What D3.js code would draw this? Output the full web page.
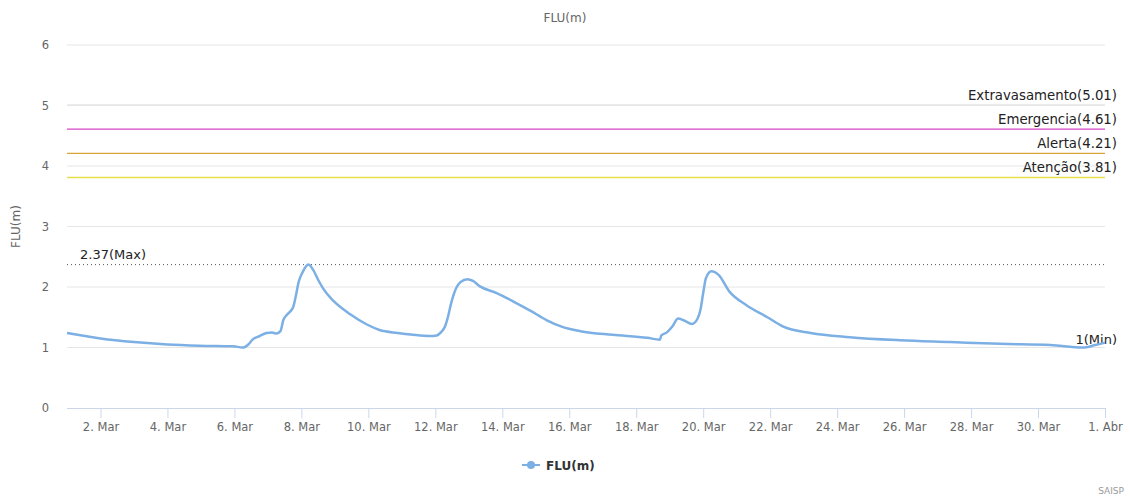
<!DOCTYPE html>
<html>
<head>
<meta charset="utf-8">
<script src="https://cdn.jsdelivr.net/npm/d3@7"></script>
<style>
  body { margin: 0; background: #fff; }
  svg { font-family: "DejaVu Sans", Verdana, sans-serif; }
</style>
</head>
<body>
<div id="chart"></div>
<script>
// days since 1 Mar 00:00 and the river level read at that time
const dayOffsets = [0, 0.99, 2.0, 2.99, 3.97, 4.96, 5.23, 5.41, 5.56, 5.76, 5.97, 6.12, 6.27, 6.36, 6.45,
  6.57, 6.75, 6.84, 6.93, 7.05, 7.2, 7.35, 7.5, 7.65, 7.95, 8.45, 8.96, 9.35, 9.86, 10.33, 10.84,
  11.05, 11.17, 11.29, 11.38, 11.47, 11.59, 11.74, 11.95, 12.13, 12.34, 12.84, 13.32, 13.83, 14.34,
  14.81, 15.32, 16.31, 17.32, 17.71, 17.77, 17.92, 18.07, 18.25, 18.43, 18.67, 18.82, 18.91, 19.0,
  19.09, 19.27, 19.44, 19.8, 20.31, 20.91, 21.39, 22.19, 23.39, 24.88, 26.37, 27.87, 29.36, 30.35,
  30.71, 31.0];
const levels = [1.24, 1.15, 1.09, 1.05, 1.03, 1.02, 1.0, 1.05, 1.13, 1.19, 1.24, 1.25, 1.23, 1.27, 1.45,
  1.55, 1.66, 1.85, 2.08, 2.25, 2.37, 2.3, 2.12, 1.96, 1.77, 1.55, 1.38, 1.29, 1.24, 1.21, 1.19,
  1.2, 1.25, 1.35, 1.5, 1.7, 1.93, 2.08, 2.13, 2.1, 2.01, 1.9, 1.76, 1.61, 1.45,
  1.34, 1.27, 1.21, 1.16, 1.13, 1.2, 1.25, 1.35, 1.48, 1.45, 1.39, 1.48, 1.62, 1.9,
  2.15, 2.26, 2.2, 1.92, 1.7, 1.5, 1.35, 1.24, 1.17, 1.12, 1.09, 1.06, 1.04, 1.0,
  1.04, 1.08];

const thresholdNames = ["Extravasamento", "Emergencia", "Alerta", "Atenção"];
const thresholdValues = [5.01, 4.61, 4.21, 3.81];
const thresholdColors = ["#e6e6e6", "#d846c8", "#dba53a", "#e6e04a"];

const yTicks = [0, 1, 2, 3, 4, 5, 6];
const monthNames = ["Jan", "Fev", "Mar", "Abr", "Mai", "Jun", "Jul", "Ago", "Set", "Out", "Nov", "Dez"];
const seriesName = "FLU(m)";

const width = 1130, height = 498;
const marginLeft = 67, marginRight = 25, marginTop = 45, marginBottom = 90;

const start = new Date(2019, 2, 1);
const end = new Date(2019, 3, 1);
const data = dayOffsets.map((d, i) => ({ date: d3.timeHour.offset(start, Math.round(d * 24)), value: levels[i] }));

const x = d3.scaleTime().domain([start, end]).range([marginLeft, width - marginRight]);
const y = d3.scaleLinear().domain([0, 6]).range([height - marginBottom, marginTop]);

const svg = d3.select("#chart").append("svg")
  .attr("width", width)
  .attr("height", height);

// horizontal grid
svg.append("g")
  .selectAll("line")
  .data(yTicks.filter(t => t > 0))
  .join("line")
  .attr("x1", marginLeft).attr("x2", width - marginRight)
  .attr("y1", d => y(d)).attr("y2", d => y(d))
  .attr("stroke", "#e6e6e6");

// y axis labels
svg.append("g")
  .selectAll("text")
  .data(yTicks)
  .join("text")
  .attr("x", 49)
  .attr("y", d => y(d) + 4)
  .attr("text-anchor", "end")
  .attr("fill", "#666")
  .attr("font-size", 11.5)
  .text(d => d);

svg.append("text")
  .attr("transform", `translate(20,${y(3)}) rotate(-90)`)
  .attr("text-anchor", "middle")
  .attr("fill", "#666")
  .attr("font-size", 12)
  .text(seriesName);

// x axis
const xTicks = d3.range(1, 31, 2).map(d => d3.timeDay.offset(start, d)).concat([end]);
const xAxis = svg.append("g")
  .attr("transform", `translate(0,${y(0)})`)
  .call(d3.axisBottom(x)
    .tickValues(xTicks)
    .tickSize(10)
    .tickPadding(5)
    .tickFormat(d => `${d.getDate()}. ${monthNames[d.getMonth()]}`));
xAxis.select(".domain").attr("stroke", "#ccd6eb").attr("d", `M${marginLeft},0.5H${width - marginRight}`);
xAxis.selectAll(".tick line").attr("stroke", "#ccd6eb");
xAxis.selectAll(".tick text")
  .attr("fill", "#666")
  .attr("font-size", 11.5)
  .attr("font-family", "DejaVu Sans, sans-serif");

// threshold lines
const thr = svg.append("g");
thresholdValues.forEach((v, i) => {
  thr.append("line")
    .attr("x1", marginLeft).attr("x2", width - marginRight)
    .attr("y1", y(v)).attr("y2", y(v))
    .attr("stroke", thresholdColors[i])
    .attr("stroke-width", 1.3);
  thr.append("text")
    .attr("x", width - 13)
    .attr("y", y(v) - 5)
    .attr("text-anchor", "end")
    .attr("fill", "#222")
    .attr("font-size", 13.3)
    .text(`${thresholdNames[i]}(${v.toFixed(2)})`);
});

// max line
const maxVal = d3.max(levels);
const minVal = d3.min(levels);
svg.append("line")
  .attr("x1", marginLeft).attr("x2", width - marginRight)
  .attr("y1", y(maxVal)).attr("y2", y(maxVal))
  .attr("stroke", "#555")
  .attr("stroke-dasharray", "1,3");
svg.append("text")
  .attr("x", 80)
  .attr("y", y(maxVal) - 6)
  .attr("fill", "#222")
  .attr("font-size", 13)
  .text(`${maxVal}(Max)`);
svg.append("text")
  .attr("x", width - 13)
  .attr("y", y(minVal) - 4)
  .attr("text-anchor", "end")
  .attr("fill", "#222")
  .attr("font-size", 13)
  .text(`${minVal}(Min)`);

// series line
const line = d3.line()
  .x(d => x(d.date))
  .y(d => y(d.value))
  .curve(d3.curveMonotoneX);
svg.append("path")
  .datum(data)
  .attr("fill", "none")
  .attr("stroke", "#7cb0e4")
  .attr("stroke-width", 2.5)
  .attr("stroke-linejoin", "round")
  .attr("d", line);

// subtitle
svg.append("text")
  .attr("x", width / 2)
  .attr("y", 22)
  .attr("text-anchor", "middle")
  .attr("fill", "#666")
  .attr("font-size", 12)
  .text(seriesName);

// legend
const legend = svg.append("g").attr("transform", "translate(522,465)");
legend.append("line").attr("x1", 0).attr("x2", 18).attr("stroke", "#7cb0e4").attr("stroke-width", 2);
legend.append("circle").attr("cx", 9).attr("r", 4).attr("fill", "#7cb0e4");
legend.append("text")
  .attr("x", 24).attr("y", 4.5)
  .attr("fill", "#333")
  .attr("font-size", 12)
  .attr("font-weight", "bold")
  .text(seriesName);

// credits
svg.append("text")
  .attr("x", width - 6)
  .attr("y", 494)
  .attr("text-anchor", "end")
  .attr("fill", "#999")
  .attr("font-size", 9)
  .text("SAISP");
</script>
</body>
</html>
